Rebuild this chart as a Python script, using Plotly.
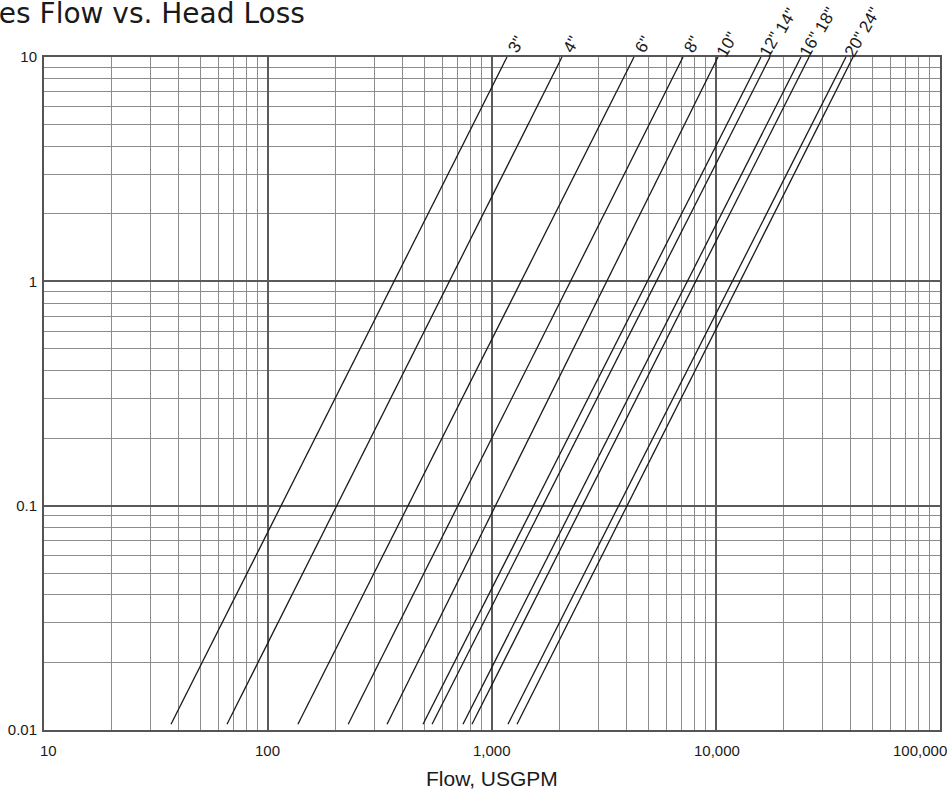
import numpy as np
import plotly.graph_objects as go

# ---- data ----
pipe_sizes = ['3"', '4"', '6"', '8"', '10"', '12"', '14"', '16"', '18"', '20"', '24"']
flow_start = [36.9, 65.6, 136, 228, 340, 492, 540, 742, 814, 1178, 1293]      # USGPM at lowest head loss
flow_end = [1167, 2053, 4305, 7126, 10207, 15880, 17420, 23950, 26020, 38040, 40900]  # USGPM at head loss 10
head_start = [0.0106] * 11
head_end = [10] * 11
label_row = [0, 0, 0, 0, 0, 0, 1, 0, 1, 0, 1]   # staggered label rows (style)

x_tick_vals = [10, 100, 1000, 10000, 100000]
x_tick_text = ["10", "100", "1,000", "10,000", "100,000"]
y_tick_vals = [0.01, 0.1, 1, 10]
y_tick_text = ["0.01", "0.1", "1", "10"]

FONT = "Liberation Sans, Arial, sans-serif"
TITLE_FONT = "DejaVu Sans, sans-serif"

fig = go.Figure()
for name, q0, q1, h0, h1 in zip(pipe_sizes, flow_start, flow_end, head_start, head_end):
    fig.add_trace(go.Scatter(x=[q0, q1], y=[h0, h1], mode="lines", name=name,
                             line=dict(color="#1a1a1a", width=1.3), showlegend=False,
                             hoverinfo="x+y+name"))

annotations = []
for name, q1, h1, row in zip(pipe_sizes, flow_end, head_end, label_row):
    annotations.append(dict(
        x=np.log10(q1), y=np.log10(h1), xref="x", yref="y",
        text=name, showarrow=False, textangle=-60,
        xanchor="center", yanchor="middle",
        xshift=9 if row == 0 else 16, yshift=13 if row == 0 else 37,
        font=dict(family=FONT, size=17, color="#1a1a1a"),
    ))

# x tick labels drawn as annotations so that the end label can stay inside the page
label_xshift = {10: 4, 100: -1, 1000: 0, 10000: 1}
for v, t in zip(x_tick_vals, x_tick_text):
    if v == x_tick_vals[-1]:
        annotations.append(dict(x=np.log10(v), y=0, xref="x", yref="paper",
                                text=t, showarrow=False, xanchor="right", yanchor="top",
                                xshift=9, yshift=-10,
                                font=dict(family=FONT, size=15, color="#1a1a1a")))
    else:
        annotations.append(dict(x=np.log10(v), y=0, xref="x", yref="paper",
                                text=t, showarrow=False, xanchor="center", yanchor="top",
                                xshift=label_xshift[v], yshift=-10,
                                font=dict(family=FONT, size=15, color="#1a1a1a")))

annotations.append(dict(
    x=(307 - 44) / 896, y=1, xref="paper", yref="paper", yshift=25,
    text="Pipes Flow vs. Head Loss", showarrow=False,
    xanchor="right", yanchor="bottom",
    font=dict(family=TITLE_FONT, size=28, color="#1a1a1a"),
))

annotations.append(dict(
    x=0.5, y=0, xref="paper", yref="paper", yshift=-35,
    text="Flow, USGPM", showarrow=False, xanchor="center", yanchor="top",
    font=dict(family=FONT, size=21, color="#1a1a1a"),
))


def minor_vals(lo, hi):
    vals = []
    d = lo
    while d < hi:
        for m in range(2, 10):
            vals.append(m * d)
        d *= 10
    return vals


fig.update_layout(
    width=951, height=797,
    margin=dict(l=44, r=11, t=57, b=67, autoexpand=False),
    paper_bgcolor="white", plot_bgcolor="white",
    annotations=annotations,
    font=dict(family=FONT, color="#1a1a1a"),
    xaxis=dict(
        type="log", range=[1, 5], automargin=False,
        tickvals=x_tick_vals, showticklabels=False,
        showgrid=True, gridcolor="#5a5a5a", gridwidth=1.6,
        minor=dict(tickvals=minor_vals(10, 100000), showgrid=True,
                   gridcolor="#8c8c8c", gridwidth=1.1, ticks=""),
        showline=True, linecolor="#555555", linewidth=2, mirror=True,
        ticks="", zeroline=False,
    ),
    yaxis=dict(
        type="log", range=[-2, 1], automargin=False,
        tickvals=y_tick_vals, ticktext=y_tick_text,
        tickfont=dict(size=15, family=FONT, color="#1a1a1a"),
        ticklabelstandoff=2,
        showgrid=True, gridcolor="#5a5a5a", gridwidth=1.6,
        minor=dict(tickvals=minor_vals(0.01, 10), showgrid=True,
                   gridcolor="#8c8c8c", gridwidth=1.1, ticks=""),
        showline=True, linecolor="#555555", linewidth=2, mirror=True,
        ticks="", zeroline=False,
    ),
)

fig.write_html("out.html", config={"displayModeBar": False},
               post_script="document.body.style.margin='0';document.body.style.padding='0';")
